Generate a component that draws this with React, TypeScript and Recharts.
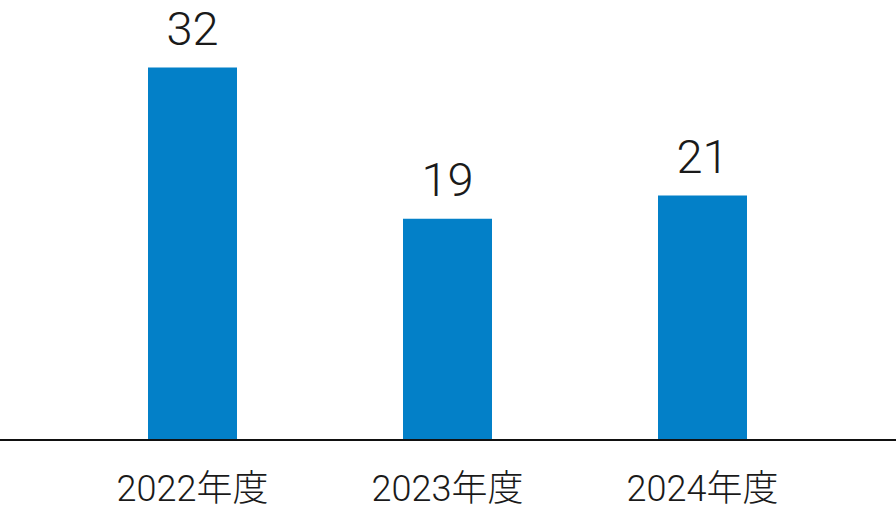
import { BarChart, Bar, XAxis, YAxis, LabelList } from "recharts";

const years = ["2022年度", "2023年度", "2024年度"];
const counts = [32, 19, 21];

const data = years.map((year, i) => ({ year, count: counts[i] }));

const FONT = "Roboto, 'Noto Sans CJK JP', sans-serif";

export default function App() {
  return (
    <div style={{ position: "absolute", top: 0, left: 0, width: 896, height: 505, background: "#fff" }}>
      <BarChart
        width={896}
        height={505}
        data={data}
        margin={{ top: 0, right: 0, left: 0, bottom: 0 }}
      >
        <XAxis
          dataKey="year"
          height={65}
          padding={{ left: 65, right: 66 }}
          tickLine={false}
          tickSize={0}
          tickMargin={35}
          axisLine={{ stroke: "#111", strokeWidth: 2 }}
          tick={{ fontSize: 36, fill: "#1a1a1a", fontFamily: FONT, fontWeight: 300 }}
        />
        <YAxis hide domain={[0, 37.8]} />
        <Bar dataKey="count" fill="#0380c8" barSize={89} isAnimationActive={false}>
          <LabelList
            dataKey="count"
            position="top"
            offset={23}
            fill="#1a1a1a"
            fontSize={47}
            fontFamily={FONT}
            fontWeight={300}
          />
        </Bar>
      </BarChart>
    </div>
  );
}
